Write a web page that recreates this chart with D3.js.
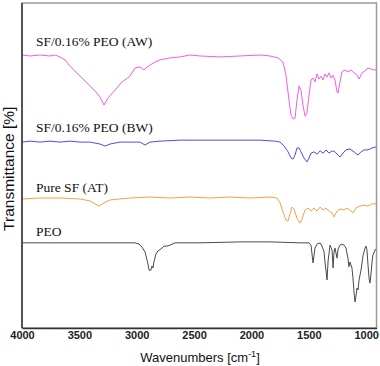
<!DOCTYPE html>
<html>
<head>
<meta charset="utf-8">
<script src="https://cdn.jsdelivr.net/npm/d3@7"></script>
<style>
  html, body { margin: 0; padding: 0; background: #fff; }
  svg { display: block; }
</style>
</head>
<body>
<svg id="ftir" width="380" height="366"></svg>
<script>
// FTIR spectra, [wavenumber cm-1, transmittance (arb. %)]
const AW = [
  [4000,84.0],[3930,83.7],[3843,84.0],[3756,83.7],[3712,84.0],[3669,83.4],[3625,82.5],[3582,80.6],
  [3494,77.5],[3407,74.5],[3355,72.6],[3320,71.1],[3285,68.6],[3250,70.8],[3189,73.2],[3128,75.7],
  [3093,76.6],[3059,77.5],[3015,80.0],[2971,80.3],[2937,79.4],[2919,80.0],[2884,80.9],[2841,81.8],
  [2797,82.5],[2710,83.1],[2623,83.4],[2536,84.0],[2448,83.7],[2274,83.4],[2099,83.7],[1925,84.0],
  [1838,83.7],[1768,83.1],[1725,81.8],[1699,77.8],[1673,70.2],[1655,65.5],[1637,64.3],[1620,64.6],
  [1603,70.2],[1585,74.5],[1568,73.2],[1551,68.6],[1533,65.2],[1516,66.2],[1498,71.7],[1481,76.3],
  [1463,76.9],[1446,75.7],[1428,78.2],[1411,76.6],[1394,77.5],[1376,76.3],[1359,78.2],[1341,77.2],
  [1324,78.5],[1306,76.9],[1289,77.8],[1272,76.3],[1254,72.6],[1245,72.3],[1228,75.7],[1211,78.8],
  [1185,79.4],[1159,78.8],[1132,79.4],[1106,78.5],[1080,77.8],[1062,76.6],[1036,78.5],[1010,79.1],
  [984,80.0],[958,79.7],[932,79.4],[914,79.4]
];
const BW = [
  [4000,57.2],[3930,57.5],[3843,57.2],[3756,57.5],[3669,57.2],[3582,57.5],[3494,57.2],[3407,57.2],
  [3320,56.6],[3276,56.0],[3233,56.6],[3146,57.2],[3059,57.2],[2971,57.2],[2928,56.3],[2884,57.2],
  [2797,57.5],[2623,57.8],[2448,57.8],[2274,57.8],[2099,57.8],[1925,57.8],[1794,57.5],[1751,57.2],
  [1716,56.0],[1681,54.2],[1655,52.3],[1637,52.0],[1620,53.2],[1603,55.4],[1585,55.4],[1568,54.2],
  [1542,52.3],[1516,51.1],[1498,52.3],[1481,53.8],[1455,54.2],[1428,53.5],[1402,54.5],[1376,53.8],
  [1350,54.8],[1324,53.8],[1297,54.5],[1272,54.2],[1245,53.2],[1228,52.6],[1202,53.8],[1176,54.8],
  [1141,55.1],[1106,54.2],[1071,53.2],[1045,54.2],[1019,54.8],[984,54.8],[949,55.4],[914,55.7]
];
const AT = [
  [4000,39.7],[3843,40.0],[3669,40.0],[3494,39.7],[3407,39.1],[3329,37.5],[3285,38.5],[3233,39.4],
  [3146,39.7],[3059,40.0],[2884,40.3],[2710,40.0],[2536,40.3],[2361,40.0],[2187,40.3],[2012,40.0],
  [1838,40.3],[1777,40.0],[1751,38.5],[1725,35.7],[1699,33.2],[1681,32.9],[1664,35.1],[1646,37.2],
  [1629,36.6],[1603,33.8],[1577,32.3],[1559,33.5],[1533,36.3],[1507,36.9],[1481,36.0],[1455,36.9],
  [1428,36.0],[1402,37.2],[1376,36.3],[1350,36.9],[1324,36.0],[1297,35.4],[1280,34.2],[1254,36.0],
  [1228,36.6],[1193,36.3],[1167,36.9],[1141,36.3],[1115,35.4],[1089,36.9],[1054,37.5],[1019,37.8],
  [984,37.5],[949,38.2],[914,38.2]
];
const PEO = [
  [4000,26.2],[3669,26.2],[3320,26.2],[3015,26.2],[2980,25.8],[2954,24.9],[2928,23.4],[2910,20.9],
  [2902,19.7],[2893,17.8],[2876,17.8],[2867,19.1],[2858,18.5],[2850,20.3],[2832,22.8],[2815,23.7],
  [2789,24.3],[2762,25.2],[2736,25.2],[2710,25.5],[2666,26.2],[2448,26.2],[2099,26.5],[1838,26.5],
  [1577,26.2],[1498,26.2],[1481,25.5],[1463,20.0],[1446,24.6],[1428,25.8],[1402,26.2],[1385,25.2],
  [1367,23.4],[1359,20.3],[1341,14.8],[1332,20.6],[1315,25.5],[1297,24.0],[1289,18.5],[1280,23.4],
  [1272,24.6],[1254,21.5],[1245,24.3],[1228,25.5],[1211,25.8],[1193,25.5],[1176,24.6],[1159,21.5],
  [1150,18.8],[1141,20.3],[1124,18.5],[1115,15.4],[1106,11.1],[1097,8.0],[1089,9.8],[1080,12.3],
  [1071,11.7],[1062,14.8],[1045,17.8],[1028,22.2],[1010,24.6],[1001,25.2],[993,24.0],[984,19.4],
  [975,15.4],[967,13.8],[958,16.6],[949,20.3],[941,22.5],[923,24.0],[914,24.3]
];

const seriesNames = ["SF/0.16% PEO (AW)", "SF/0.16% PEO (BW)", "Pure SF (AT)", "PEO"];
const seriesColors = ["#f25cf2", "#4b4bf5", "#f7a048", "#4a4a4a"];
const labelLevels = [86.8, 60.2, 41.8, 28.3]; // where each name sits above its trace
const xTicks = [4000, 3500, 3000, 2500, 2000, 1500, 1000];

const svg = d3.select("#ftir");
const margin = { top: 3, right: 3.5, bottom: 38, left: 22 };
const W = 380, H = 366;

const x = d3.scaleLinear().domain([4000, 910]).range([margin.left, W - margin.right]);
const y = d3.scaleLinear().domain([0, 100]).range([H - margin.bottom, margin.top]);

const line = d3.line().x(d => x(d[0])).y(d => y(d[1]));

// traces
[AW, BW, AT, PEO].forEach((s, i) => {
  svg.append("path")
    .datum(s)
    .attr("fill", "none")
    .attr("stroke", seriesColors[i])
    .attr("stroke-width", 1)
    .attr("d", line);
});

// trace names
svg.append("g")
  .selectAll("text")
  .data(seriesNames)
  .enter()
  .append("text")
  .attr("x", 36)
  .attr("y", (d, i) => y(labelLevels[i]))
  .attr("font-family", "'Liberation Serif', 'Times New Roman', serif")
  .attr("font-size", 13.5)
  .attr("fill", "#111")
  .text(d => d);

// frame
svg.append("rect")
  .attr("x", margin.left)
  .attr("y", margin.top)
  .attr("width", W - margin.right - margin.left)
  .attr("height", H - margin.bottom - margin.top)
  .attr("fill", "none")
  .attr("stroke", "#999")
  .attr("stroke-width", 1.5);

const gx = svg.append("g")
  .attr("transform", `translate(0,${H - margin.bottom})`)
  .call(d3.axisBottom(x).tickValues(xTicks).tickSize(0).tickPadding(3).tickFormat(d3.format("d")));
gx.select(".domain").attr("stroke", "#333").attr("stroke-width", 1.5);
gx.selectAll(".tick text")
  .attr("font-family", "'Liberation Sans', Arial, sans-serif")
  .attr("font-size", 11)
  .attr("font-weight", "bold")
  .attr("fill", "#222");

svg.append("line")
  .attr("x1", margin.left).attr("x2", margin.left)
  .attr("y1", margin.top).attr("y2", H - margin.bottom)
  .attr("stroke", "#333").attr("stroke-width", 1.5);

// axis titles
const xt = svg.append("text")
  .attr("x", 200)
  .attr("y", 362)
  .attr("text-anchor", "middle")
  .attr("font-family", "'Liberation Sans', Arial, sans-serif")
  .attr("font-size", 13)
  .attr("fill", "#111");
xt.append("tspan").text("Wavenumbers [cm");
xt.append("tspan").attr("dy", -5).attr("font-size", 9).text("-1");
xt.append("tspan").attr("dy", 5).text("]");

svg.append("text")
  .attr("transform", `translate(14,${y(49)}) rotate(-90)`)
  .attr("text-anchor", "middle")
  .attr("font-family", "'Liberation Sans', Arial, sans-serif")
  .attr("font-size", 15.5)
  .attr("fill", "#111")
  .text("Transmittance [%]");
</script>
</body>
</html>
